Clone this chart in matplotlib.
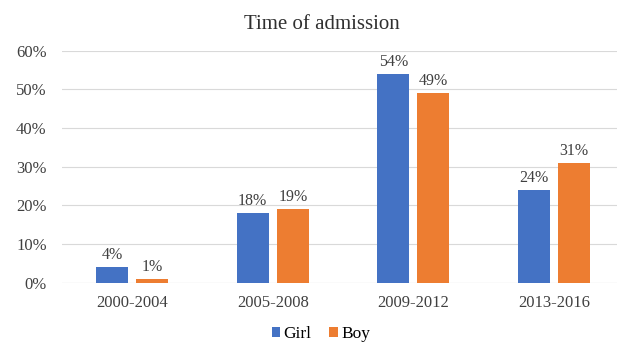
import matplotlib.pyplot as plt
import numpy as np

categories = ["2000-2004", "2005-2008", "2009-2012", "2013-2016"]
girl = [4, 18, 54, 24]
boy = [1, 19, 49, 31]
yticks = [0, 10, 20, 30, 40, 50, 60]

plt.rcParams['font.family'] = ['Liberation Serif', 'DejaVu Serif']

fig = plt.figure(figsize=(6.17, 3.43), dpi=100)
ax = fig.add_axes([0.1005, 0.176, 0.8995, 0.676])

x = np.arange(len(categories))
w = 0.225
off = 0.1425
b1 = ax.bar(x - off, girl, w, color="#4472C4", label="Girl", zorder=3)
b2 = ax.bar(x + off, boy, w, color="#ED7D31", label="Boy", zorder=3)
for bars, vals in ((b1, girl), (b2, boy)):
    for r, v in zip(bars, vals):
        ax.annotate(f"{v}%", (r.get_x() + r.get_width() / 2, v), xytext=(0, 3),
                    textcoords="offset points", ha="center", va="bottom",
                    fontsize=11.5, color="#404040")

ax.set_xlim(-0.5, 3.45)
ax.set_ylim(0, 60)
ax.set_yticks(yticks)
ax.set_yticklabels([f"{t}%" for t in yticks])
ax.set_xticks(x)
ax.set_xticklabels(categories)
ax.tick_params(length=0, labelsize=12, labelcolor="#404040")
ax.tick_params(axis='y', pad=11)
ax.tick_params(axis='x', pad=9)
ax.grid(axis='y', color="#D9D9D9", linewidth=0.8, zorder=0)
for s in ax.spines.values():
    s.set_visible(False)
ax.axhline(0, color="#D9D9D9", linewidth=0.8, zorder=1)

fig.text(0.522, 0.93, "Time of admission", ha="center", va="center", fontsize=15, color="#303030")
fig.legend(handles=[b1, b2], labels=["Girl", "Boy"], loc="center", bbox_to_anchor=(0.52, 0.025),
           ncol=2, frameon=False, fontsize=12.5, handlelength=0.5, handleheight=0.5,
           handletextpad=0.2, columnspacing=1.0)

fig.savefig("out.png", dpi=100)
